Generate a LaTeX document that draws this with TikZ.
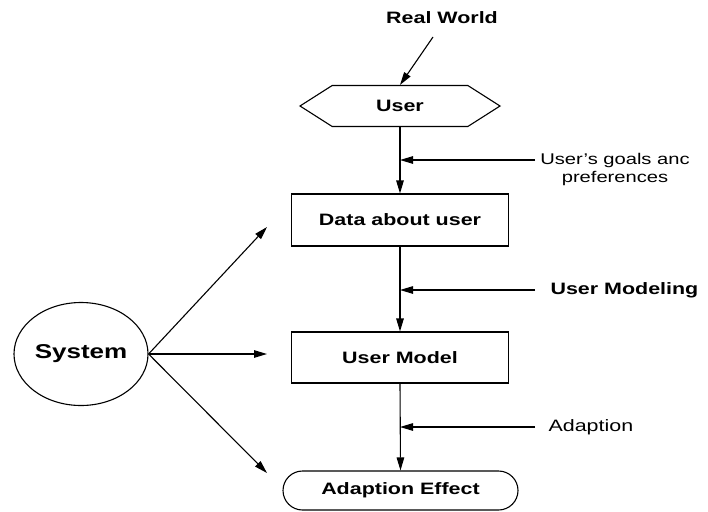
\documentclass[tikz,border=0pt]{standalone}
\usepackage{fontspec}
\setmainfont{Liberation Sans}[FakeStretch=1.3]
\usetikzlibrary{shapes.geometric,shapes.symbols,shapes.misc,arrows.meta}

\begin{document}
\begin{tikzpicture}[x=1pt,y=-1pt,line width=1.1pt,
    >={Triangle[length=13pt,width=7.5pt]},
    every node/.style={font=\fontsize{16.5}{18}\selectfont\bfseries},
    box/.style={draw,rectangle,minimum width=217pt,minimum height=52pt,inner sep=0pt}]
  \useasboundingbox (0,0) rectangle (708,511);

  % the chain in the middle
  \node (world) at (442,18) {Real World};
  \node[draw,signal,signal to=east and west,signal pointer angle=65,
        minimum width=200pt,minimum height=41pt,inner sep=0pt] (user) at (400,106) {User};
  \node[box] (data) at (400,220) {Data about user};
  \node[box,minimum height=51pt] (model) at (400,357.5) {User Model};
  \node[draw,rounded rectangle,minimum width=235pt,minimum height=39pt,inner sep=0pt] (effect) at (400.5,490.5) {Adaption Effect};
  \node[draw,ellipse,minimum width=134pt,minimum height=103pt,inner sep=0pt,
        font=\fontsize{20}{24}\selectfont\bfseries] (sys) at (81,354) {System};

  % side inputs
  \node[align=center,inner sep=0pt,font=\fontsize{15.5}{18}\selectfont] (goals) at (615,169) {User's goals anc\\preferences};
  \node[anchor=west,inner sep=0pt] (modeling) at (550,290) {User Modeling};
  \node[anchor=west,inner sep=0pt,font=\fontsize{16.5}{18}\selectfont] (adapt) at (548,427) {Adaption};

  \coordinate (wStart) at (433,37);
  \coordinate (gStart) at (535,160);
  \coordinate (mStart) at (535,290);
  \coordinate (aStart) at (535,427);

  \draw[->] (wStart) -- (user.north);
  \draw[->] (user.south) -- (data.north);
  \draw[->] (data.south) -- (model.north);
  \draw[->] (model.south) -- (effect.north);
  \draw[->] (gStart) -- (user.south |- gStart);
  \draw[->] (mStart) -- (data.south |- mStart);
  \draw[->] (aStart) -- (model.south |- aStart);

  % arrows out of the system
  \coordinate (s1) at (267,227);
  \coordinate (s2) at (267,354);
  \coordinate (s3) at (267,473);
  \foreach \e in {s1,s2,s3}
    \draw[->] (sys.east) -- (\e);
\end{tikzpicture}
\end{document}
